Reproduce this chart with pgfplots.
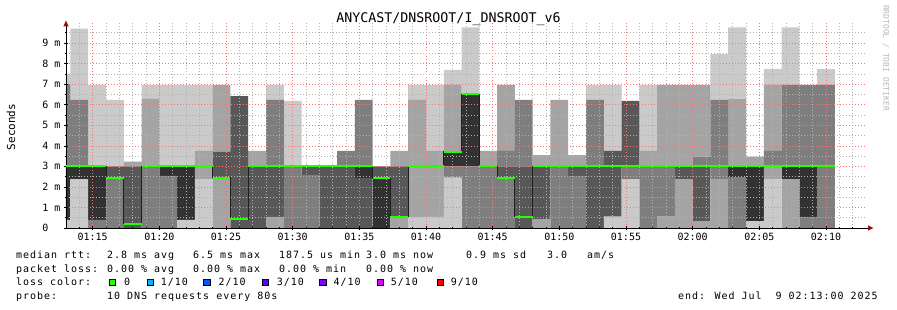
\documentclass[border=0pt]{standalone}
\usepackage{fontspec}
\setmainfont{DejaVu Sans Mono}
\setmonofont{DejaVu Sans Mono}
\newfontfamily\legfam[LetterSpace=9.8]{DejaVu Sans Mono}
\usepackage{pgfplots}
\pgfplotsset{compat=1.18}
\usepackage{pgfplotstable}

\definecolor{s1}{HTML}{CACACA}
\definecolor{s2}{HTML}{A4A4A4}
\definecolor{s3}{HTML}{7E7E7E}
\definecolor{s4}{HTML}{585858}
\definecolor{s5}{HTML}{323232}
\definecolor{loss0}{HTML}{26FF00}
\definecolor{loss1}{HTML}{00B8FF}
\definecolor{loss2}{HTML}{0059FF}
\definecolor{loss3}{HTML}{5E00FF}
\definecolor{loss4}{HTML}{7E00FF}
\definecolor{loss5}{HTML}{DD00FF}
\definecolor{loss9}{HTML}{FF0000}
\definecolor{arrred}{HTML}{9A1010}

% smoke: nested ping ranges per 80 s step (c = step centre, minutes after 01:00, ms)
\pgfplotstableread{
c      l1 l2   l3   l4   l5   h5   h4   h3   h2   h1
12.667 0  0.4  0.4  0.4  0.4  3.0  3.0  7.0  7.0  7.5
14.000 0  2.38 2.38 2.38 2.38 3.0  3.0  6.23 6.23 9.7
15.333 0  0    0    0.4  0.4  3.0  3.0  3.0  3.0  6.96
16.667 0  0    0    2.42 2.42 2.42 3.0  3.0  3.0  6.23
18.000 0  0    0    0    0.2  0.2  3.0  3.0  3.23 3.23
19.333 0  0    0    3.0  3.0  3.0  3.0  3.0  6.28 6.96
20.667 0  0    0    2.53 2.53 3.0  3.0  3.0  3.0  6.96
22.000 0  0.4  0.4  0.4  0.4  3.0  3.0  3.0  3.0  6.96
23.333 0  2.38 3.0  3.0  3.0  3.0  3.0  3.0  3.75 6.96
24.667 0  0    2.45 2.45 2.45 2.45 3.71 3.71 6.96 6.96
26.000 0  0    0    0    0.42 0.42 6.42 6.42 6.42 6.42
27.333 0  0    0    0    3.0  3.0  3.0  3.0  3.75 3.75
28.667 0  0    0.54 0.54 3.0  3.0  3.0  6.23 6.23 6.96
30.000 0  0    0    3.0  3.0  3.0  3.0  3.0  3.0  6.18
31.333 0  0    0    2.58 3.0  3.0  3.0  3.0  3.0  3.0
32.667 0  0    0    0    3.0  3.0  3.0  3.0  3.0  3.0
34.000 0  0    0    0    3.0  3.0  3.0  3.75 3.75 3.75
35.333 0  0    0    0    2.42 3.0  3.0  6.23 6.23 6.23
36.667 0  0    0    0    0    2.42 3.0  3.0  3.0  3.0
38.000 0  0    0.54 0.54 0.54 0.54 3.0  3.0  3.75 3.75
39.333 0  0.54 3.0  3.0  3.0  3.0  3.0  3.0  6.23 6.96
40.667 0  0.54 3.0  3.0  3.0  3.0  3.0  3.0  3.75 6.96
42.000 0  2.45 2.45 3.0  3.0  3.71 3.71 3.71 6.96 7.69
43.333 0  0    0    3.0  3.0  6.5  6.5  6.5  6.5  9.76
44.667 0  0    0    3.0  3.0  3.0  3.0  3.0  3.75 3.75
46.000 0  0    0    2.45 2.45 2.45 3.0  3.75 6.96 6.96
47.333 0  0    0    0    0.55 0.55 3.0  6.23 6.23 6.23
48.667 0  0    0.43 0.43 3.0  3.0  3.0  3.0  3.55 3.55
50.000 0  0    0    3.0  3.0  3.0  3.0  3.0  6.23 6.23
51.333 0  0    0    2.53 3.0  3.0  3.0  3.0  3.55 3.55
52.667 0  0    0    0    3.0  3.0  3.0  6.23 6.23 6.96
54.000 0  0.55 0.55 0.55 3.0  3.0  3.75 3.75 3.75 6.96
55.333 0  2.38 2.38 3.0  3.0  3.0  6.18 6.18 6.18 6.18
56.667 0  0    0    3.0  3.0  3.0  3.0  3.0  3.75 6.96
58.000 0  0    0.55 3.0  3.0  3.0  3.0  3.0  6.96 6.96
59.333 0  0    2.38 2.38 3.0  3.0  3.0  3.0  6.96 6.96
60.667 0  0    0.34 0.34 3.0  3.0  3.0  3.47 6.96 6.96
62.000 0  0    2.38 3.0  3.0  3.0  3.0  6.23 6.23 8.46
63.333 0  0    0    2.45 2.45 3.0  3.0  3.0  6.27 9.76
64.667 0  0.34 0.34 0.34 0.34 3.0  3.0  3.0  3.47 3.47
66.000 0  2.38 3.0  3.0  3.0  3.0  3.0  3.75 6.96 7.73
67.333 0  0    2.38 2.38 2.38 3.0  3.0  6.96 6.96 9.76
68.667 0  0    0    0.54 0.54 3.0  3.0  6.96 6.96 6.96
70.000 0  0    0    3.0  3.0  3.0  3.0  6.96 6.96 7.73
}\smoke

% median rtt per step (step start, ms)
\pgfplotstableread{
t      med
13.000 3.0
16.000 2.42
17.333 0.2
18.667 3.0
24.000 2.45
25.333 0.42
26.667 3.0
36.000 2.42
37.333 0.54
38.667 3.0
41.333 3.71
42.667 6.5
44.000 3.0
45.333 2.45
46.667 0.55
48.000 3.0
70.667 3.0
}\median

\pgfplotsset{geom/.style={at={(0,0)}, anchor=south west,
  scale only axis, width=800pt, height=205.6pt,
  xmin=13, xmax=73, ymin=0, ymax=10}}

\begin{document}
\begin{tikzpicture}[x=1pt,y=1pt]
% smoke layer
\begin{axis}[geom, hide axis, ybar stacked, bar width=1.33333]
\addplot[draw=none, fill=none] table[x=c, y=l1] {\smoke};
\addplot[draw=none, fill=s1] table[x=c, y expr=\thisrow{l2}-\thisrow{l1}] {\smoke};
\addplot[draw=none, fill=s2] table[x=c, y expr=\thisrow{l3}-\thisrow{l2}] {\smoke};
\addplot[draw=none, fill=s3] table[x=c, y expr=\thisrow{l4}-\thisrow{l3}] {\smoke};
\addplot[draw=none, fill=s4] table[x=c, y expr=\thisrow{l5}-\thisrow{l4}] {\smoke};
\addplot[draw=none, fill=s5] table[x=c, y expr=\thisrow{h5}-\thisrow{l5}] {\smoke};
\addplot[draw=none, fill=s4] table[x=c, y expr=\thisrow{h4}-\thisrow{h5}] {\smoke};
\addplot[draw=none, fill=s3] table[x=c, y expr=\thisrow{h3}-\thisrow{h4}] {\smoke};
\addplot[draw=none, fill=s2] table[x=c, y expr=\thisrow{h2}-\thisrow{h3}] {\smoke};
\addplot[draw=none, fill=s1] table[x=c, y expr=\thisrow{h1}-\thisrow{h2}] {\smoke};
\end{axis}
% main axis: grid, ticks and labels over the smoke
\begin{axis}[geom,
  axis x line*=bottom, axis y line*=left,
  axis line style={black, line width=0.6pt},
  xtick={15,20,...,70},
  xticklabels={01:15,01:20,01:25,01:30,01:35,01:40,01:45,01:50,01:55,02:00,02:05,02:10},
  minor xtick={14,16,17,18,19,21,22,23,24,26,27,28,29,31,32,33,34,36,37,38,39,41,42,43,44,46,47,48,49,51,52,53,54,56,57,58,59,61,62,63,64,66,67,68,69,71,72},
  ytick={0,1,...,9},
  yticklabels={{0\ \phantom{m}},{1 m},{2 m},{3 m},{4 m},{5 m},{6 m},{7 m},{8 m},{9 m}},
  minor ytick={0.5,1.5,...,9.5},
  grid=both,
  major grid style={red!55, line width=0.5pt, dash pattern=on 1pt off 2pt},
  minor grid style={black!30, line width=0.5pt, dash pattern=on 1pt off 2pt},
  axis on top,
  tick align=center,
  major tick length=4pt, minor tick length=2pt,
  tick style={black, line width=0.5pt},
  xticklabel style={font=\fontsize{10}{12}\selectfont},
  yticklabel style={font=\fontsize{10}{12}\selectfont},
]
\addplot[draw=none, mark=none, forget plot] table[x=t, y=med] {\median};
\coordinate (O) at (axis cs:13,0);
\end{axis}
% median line above the grid
\begin{axis}[geom, hide axis]
\addplot[const plot, color=black!88, line width=0.8pt, mark=none] table[x=t, y=med] {\median};
\addplot[jump mark left, color=loss0, line width=2pt, mark=none] table[x=t, y=med] {\median};
\end{axis}
\begin{scope}[shift={(O)}, xshift=-66pt, yshift=-82pt]
% axis arrows
\draw[black, line width=0.6pt] (866,82) -- (869,82);
\fill[arrred] (868,79.3) -- (873.5,82) -- (868,84.7) -- cycle;
\fill[arrred] (63.3,283.5) -- (66,289.5) -- (68.7,283.5) -- cycle;
% title and labels
\node[font=\fontsize{13.3}{15}\selectfont, inner sep=0] at (448.5,291) {ANYCAST/DNSROOT/I\_DNSROOT\_v6};
\node[font=\fontsize{11}{13}\selectfont, rotate=90, inner sep=0] at (11,183) {Seconds};
\node[font=\fontsize{8}{10}\selectfont, rotate=-90, text=black!28, inner sep=0] at (886,252) {RRDTOOL / TOBI OETIKER};
% legend text
\tikzset{lg/.style={anchor=base west, inner sep=0, font=\legfam\fontsize{10}{12}\selectfont}}
\node[lg] at (16,51) {median rtt:};
\node[lg] at (107,51) {2.8 ms avg};
\node[lg] at (193,51) {6.5 ms max};
\node[lg] at (279,51) {187.5 us min};
\node[lg] at (366,51) {3.0 ms now};
\node[lg] at (466,51) {0.9 ms sd};
\node[lg] at (547,51) {3.0};
\node[lg] at (587,51) {am/s};
\node[lg] at (16,37.7) {packet loss:};
\node[lg] at (107,37.7) {0.00 \% avg};
\node[lg] at (193,37.7) {0.00 \% max};
\node[lg] at (279,37.7) {0.00 \% min};
\node[lg] at (366,37.7) {0.00 \% now};
\node[lg] at (16,24) {loss color:};
\filldraw[fill=loss0, draw=black, line width=0.6pt] (109.3,24.3) rectangle ++(6.3,6.3);
\node[lg] at (124,24) {0};
\filldraw[fill=loss1, draw=black, line width=0.6pt] (147,24.3) rectangle ++(6.3,6.3);
\node[lg] at (160.7,24) {1/10};
\filldraw[fill=loss2, draw=black, line width=0.6pt] (203.5,24.3) rectangle ++(6.3,6.3);
\node[lg] at (218.3,24) {2/10};
\filldraw[fill=loss3, draw=black, line width=0.6pt] (262,24.3) rectangle ++(6.3,6.3);
\node[lg] at (276.7,24) {3/10};
\filldraw[fill=loss4, draw=black, line width=0.6pt] (319.5,24.3) rectangle ++(6.3,6.3);
\node[lg] at (333.3,24) {4/10};
\filldraw[fill=loss5, draw=black, line width=0.6pt] (377,24.3) rectangle ++(6.3,6.3);
\node[lg] at (390.7,24) {5/10};
\filldraw[fill=loss9, draw=black, line width=0.6pt] (437,24.3) rectangle ++(6.3,6.3);
\node[lg] at (450.7,24) {9/10};
\node[lg] at (16,10.7) {probe:};
\node[lg] at (107,10.7) {10 DNS requests every 80s};
\node[lg] at (678,10.7) {end: Wed Jul\ \ 9 02:13:00 2025};
\pgfresetboundingbox
\path[use as bounding box] (0,0) rectangle (897,310);
\end{scope}
\end{tikzpicture}
\end{document}
